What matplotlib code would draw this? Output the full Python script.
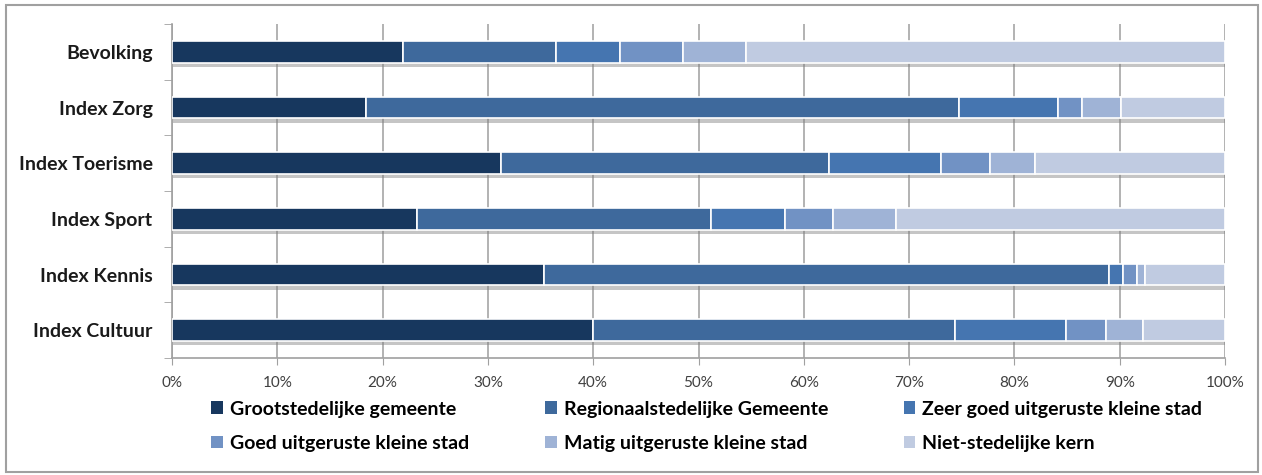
import matplotlib.pyplot as plt
import matplotlib.patheffects as pe
import numpy as np

# categories (top to bottom) and shares per gemeente type, in %
categories = ['Bevolking', 'Index Zorg', 'Index Toerisme', 'Index Sport', 'Index Kennis', 'Index Cultuur']
series_names = ['Grootstedelijke gemeente', 'Regionaalstedelijke Gemeente', 'Zeer goed uitgeruste kleine stad',
                'Goed uitgeruste kleine stad', 'Matig uitgeruste kleine stad', 'Niet-stedelijke kern']
grootstedelijk = [21.9, 18.4, 31.2, 23.3, 35.3, 40.0]
regionaal = [14.6, 56.3, 31.2, 27.9, 53.7, 34.4]
zeer_goed = [6.0, 9.4, 10.6, 7.0, 1.3, 10.5]
goed = [6.0, 2.3, 4.7, 4.6, 1.3, 3.8]
matig = [6.0, 3.7, 4.3, 6.0, 0.8, 3.5]
niet_stedelijk = [45.5, 9.9, 18.0, 31.2, 7.6, 7.8]
colors = ['#17375E', '#3E699C', '#4575B0', '#7192C4', '#9FB3D6', '#C0CBE1']
xticks = np.arange(0, 101, 10)

plt.rcParams['font.family'] = ['Lato', 'DejaVu Sans']

fig = plt.figure(figsize=(12.62, 4.75), dpi=100)
ax = fig.add_axes([172/1262, 1-358/475, (1225-172)/1262, (358-24)/475])

# outer chart frame
fig.patches.append(plt.Rectangle((6/1262, 3/475), 1252/1262, 467/475, transform=fig.transFigure,
                                 fill=False, edgecolor='#A0A0A0', linewidth=1.5))

y = np.arange(len(categories))
data = [grootstedelijk, regionaal, zeer_goed, goed, matig, niet_stedelijk]
left = np.zeros(len(categories))
handles = []
for vals, name, col in zip(data, series_names, colors):
    bars = ax.barh(y, vals, left=left, height=0.39, color=col, edgecolor='white', linewidth=1.2,
                   label=name, zorder=3)
    for b in bars:
        b.set_path_effects([pe.SimplePatchShadow(offset=(1, -3), shadow_rgbFace='#808080', alpha=0.45),
                            pe.Normal()])
    handles.append(bars)
    left += np.array(vals)

ax.set_xlim(0, 100)
ax.set_ylim(len(categories) - 0.5, -0.5)
ax.set_xticks(xticks)
ax.set_xticklabels([f'{t}%' for t in xticks], fontsize=11, color='#404040')
ax.set_yticks(y)
ax.set_yticklabels(categories, fontsize=14, fontweight='bold', color='#1a1a1a')
ax.set_yticks(np.arange(-0.5, len(categories)), minor=True)
ax.tick_params(axis='y', which='major', length=0, pad=14)
ax.tick_params(axis='y', which='minor', length=6, color='#A0A0A0', direction='out')
ax.tick_params(axis='x', length=5, color='#A0A0A0', pad=8)
ax.grid(axis='x', color='#A6A6A6', linewidth=1.2, zorder=0)
for s in ['top', 'right']:
    ax.spines[s].set_visible(False)
for s in ['left', 'bottom']:
    ax.spines[s].set_color('#A0A0A0')
    ax.spines[s].set_linewidth(1.2)

# legend filled row by row, like the original
order = [0, 3, 1, 4, 2, 5]
leg = fig.legend([handles[i] for i in order], [series_names[i] for i in order], ncol=3,
                 loc='upper left', bbox_to_anchor=(194/1262, 1-383/475), frameon=False,
                 handlelength=0.6, handleheight=0.6, handletextpad=0.35, columnspacing=3.9,
                 labelspacing=0.88, prop={'weight': 'bold', 'size': 14})
for h in leg.legend_handles:
    h.set_path_effects([])
    h.set_edgecolor('none')

fig.savefig('out.png', dpi=100)
